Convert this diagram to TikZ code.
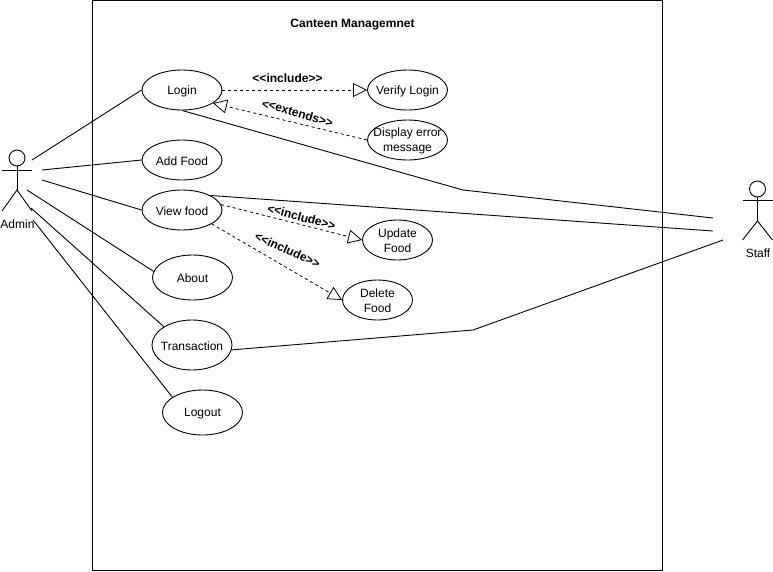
\documentclass[tikz,border=0pt]{standalone}
\usepackage{fontspec}
\setmainfont{Liberation Sans}
\usetikzlibrary{shapes.geometric,arrows.meta}
\tikzset{
  uclabel/.style={font=\fontsize{12}{15}\selectfont,align=center,inner sep=0pt,yshift=-1pt},
  usecase/.style={draw=black,line width=0.9pt,ellipse,fill=white,inner sep=0pt,minimum width=80pt,minimum height=40pt,label={[uclabel]center:{#1}}},
  assoc/.style={draw=black,line width=0.9pt},
  relation/.style={draw=black,line width=0.8pt,dash pattern=on 3pt off 3pt,-{Triangle[open,fill=white,length=14pt,width=14pt]}},
  rellabel/.style={font=\fontsize{12}{14}\selectfont\bfseries,inner sep=0pt},
  actorlabel/.style={font=\fontsize{12}{14}\selectfont,inner sep=0pt},
  head/.style={draw=black,line width=0.9pt,circle,minimum size=16pt,inner sep=0pt},
  limb/.style={draw=black,line width=0.9pt}
}
\begin{document}
\begin{tikzpicture}[x=1pt,y=-1pt]
\useasboundingbox (0,0) rectangle (773,571);
\node[draw=black,line width=0.9pt,minimum width=570pt,minimum height=570pt,inner sep=0pt] (system) at (377.5,285.5) {};
\node[font=\fontsize{12}{14}\selectfont\bfseries,inner sep=0pt] (title) at (352.5,24.5) {Canteen Managemnet};

% use cases
\node[usecase={Login}] (login) at (182,90) {};
\node[usecase={Verify Login}] (verify) at (407.5,90) {};
\node[usecase={Display error\\message}] (display) at (407.5,140) {};
\node[usecase={Add Food}] (add) at (182,160) {};
\node[usecase={View food}] (view) at (182,210) {};
\node[usecase={Update\\Food},minimum width=70pt] (update) at (397.5,240) {};
\node[usecase={Delete\\Food},minimum width=70pt] (delete) at (377.5,300) {};
\node[usecase={About},minimum height=45pt] (about) at (192.5,277.5) {};
\node[usecase={Transaction},minimum height=50pt] (trans) at (192,345) {};
\node[usecase={Logout},minimum height=45pt] (logout) at (202.5,412.5) {};

% Admin actor
\node[head] (adminhead) at (17,158) {};
\coordinate (adminhip) at (17,190);
\draw[limb] (adminhead.south) -- (adminhip);
\draw[limb] (2,170) -- (32,170);
\draw[limb] (2,211) -- (adminhip) -- (32,211);
\node[actorlabel] (adminlabel) at (17.5,224) {Admin};

% Staff actor
\node[head] (staffhead) at (757.5,189) {};
\coordinate (staffhip) at (757.5,221);
\draw[limb] (staffhead.south) -- (staffhip);
\draw[limb] (742.5,200) -- (772.5,200);
\draw[limb] (742.5,240) -- (staffhip) -- (772.5,240);
\node[actorlabel] (stafflabel) at (758,253.5) {Staff};

% free ends near the actors
\coordinate (a1) at (32,160);
\coordinate (a2) at (42,170);
\coordinate (a3) at (42,180);
\coordinate (a4) at (27,190);
\coordinate (a5) at (31,208);
\coordinate (a6) at (33,220);
\coordinate (s1) at (713,218);
\coordinate (s2) at (713,231);
\coordinate (s3) at (723,240);
\coordinate (bend1) at (463,190);
\coordinate (bend2) at (473,330);

% associations
\draw[assoc] (a1) -- (login.west);
\draw[assoc] (a2) -- (add.west);
\draw[assoc] (a3) -- (view.west);
\draw[assoc] (a4) -- (about.171);
\draw[assoc] (a5) -- (trans.147);
\draw[assoc] (a6) -- (logout.153);
\draw[assoc] (login.south) -- (bend1) -- (s1);
\draw[assoc] (view.27) -- (s2);
\draw[assoc] (trans.-7) -- (bend2) -- (s3);

% dashed relations
\draw[relation] (login.east) -- (verify.west);
\draw[relation] (display.west) -- (login.-23);
\draw[relation] (view.8) -- (update.west);
\draw[relation] (view.-25) -- (delete.west);

% relation labels
\node[rellabel] (l1) at (287.5,78) {<{}<include>{}>};
\node[rellabel,rotate=-16] (l2) at (297.5,113) {<{}<extends>{}>};
\node[rellabel,rotate=-15] (l3) at (301.5,217) {<{}<include>{}>};
\node[rellabel,rotate=-24] (l4) at (287.5,250) {<{}<include>{}>};
\end{tikzpicture}
\end{document}
